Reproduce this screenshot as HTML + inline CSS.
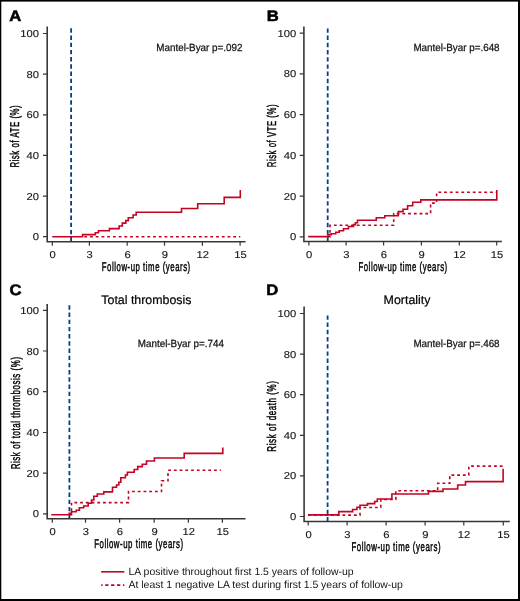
<!DOCTYPE html>
<html><head><meta charset="utf-8"><title>Figure</title><style>
html,body{margin:0;padding:0;background:#fff;}
body{width:520px;height:601px;overflow:hidden;}
svg{display:block;will-change:transform;}
text{font-family:"Liberation Sans",sans-serif;fill:#141414;text-rendering:geometricPrecision;}
.t{font-size:10px;stroke:#141414;stroke-width:0.12px;}
.p{font-size:10.4px;stroke:#141414;stroke-width:0.25px;}
.at{font-size:12.8px;letter-spacing:0.9px;fill:#000;stroke:#000;stroke-width:0.45px;}
.ti{font-size:12.4px;fill:#000;stroke:#000;stroke-width:0.2px;}
.L{font-size:16px;font-weight:bold;fill:#000;stroke:#000;stroke-width:0.55px;}
.lg{font-size:10.45px;}
.ax{stroke:#3a3637;stroke-width:1.6;fill:none;}
.tk{stroke:#3a3637;stroke-width:1.2;fill:none;}
.bl{stroke:#05417e;stroke-width:1.8;stroke-dasharray:4.4 2.8;fill:none;}
.rs{stroke:#c30321;stroke-width:1.6;fill:none;}
.rd{stroke:#c30321;stroke-width:1.6;stroke-dasharray:2.8 2.93;fill:none;}
</style></head>
<body><svg width="520" height="601" viewBox="0 0 520 601">
<rect width="520" height="601" fill="#fff"/>
<path d="M47.2,26.5 V241.8 M46.400000000000006,241.8 H245.5" class="ax"/>
<path d="M43.0,236.7 H47.2 M43.0,196.1 H47.2 M43.0,155.4 H47.2 M43.0,114.8 H47.2 M43.0,74.1 H47.2 M43.0,33.5 H47.2 M52.3,241.8 V245.8 M89.4,241.8 V245.8 M127.2,241.8 V245.8 M164.5,241.8 V245.8 M202.4,241.8 V245.8 M240.1,241.8 V245.8 " class="tk"/>
<text transform="translate(39,240.2) scale(1.12,1)" text-anchor="end" class="t">0</text>
<text transform="translate(39,199.6) scale(1.12,1)" text-anchor="end" class="t">20</text>
<text transform="translate(39,158.9) scale(1.12,1)" text-anchor="end" class="t">40</text>
<text transform="translate(39,118.3) scale(1.12,1)" text-anchor="end" class="t">60</text>
<text transform="translate(39,77.6) scale(1.12,1)" text-anchor="end" class="t">80</text>
<text transform="translate(39,37.0) scale(1.12,1)" text-anchor="end" class="t">100</text>
<text transform="translate(52.6,257.9) scale(1.12,1)" text-anchor="middle" class="t">0</text>
<text transform="translate(89.7,257.9) scale(1.12,1)" text-anchor="middle" class="t">3</text>
<text transform="translate(127.5,257.9) scale(1.12,1)" text-anchor="middle" class="t">6</text>
<text transform="translate(164.8,257.9) scale(1.12,1)" text-anchor="middle" class="t">9</text>
<text transform="translate(202.7,257.9) scale(1.12,1)" text-anchor="middle" class="t">12</text>
<text transform="translate(240.4,257.9) scale(1.12,1)" text-anchor="middle" class="t">15</text>
<path d="M71.1,28.3 V241.3" class="bl"/>
<path d="M82.6,236.8 H240.3" class="rd" style="stroke-dashoffset:4.03"/>
<path d="M52.3,236.8 H82.6 V234.6 H95.3 V232.7 H98.4 V230.8 H109.4 V228.6 H119.1 V226 H122.3 V223.1 H125.8 V220.6 H128.3 V217.7 H133.1 V215 H136.2 V212.2 H181.5 V208.5 H197.7 V203.8 H224.2 V197.4 H240.3 V190" class="rs"/>
<text transform="translate(9.2,21.2) scale(1.04,0.95)" class="L">A</text>
<text x="156.3" y="50.8" class="p" textLength="86.2" lengthAdjust="spacingAndGlyphs">Mantel-Byar p=.092</text>
<text transform="translate(101.79,271) scale(0.6076,1)" class="at">Follow-up time (years)</text>
<text transform="translate(19,167.61) rotate(-90) scale(0.6109,1)" class="at">Risk of ATE (%)</text>
<path d="M303.9,26.4 V241.5 M303.09999999999997,241.5 H501.9" class="ax"/>
<path d="M299.7,236.8 H303.9 M299.7,196.1 H303.9 M299.7,155.4 H303.9 M299.7,114.6 H303.9 M299.7,73.9 H303.9 M299.7,33.2 H303.9 M308.9,241.5 V245.5 M346.1,241.5 V245.5 M383.6,241.5 V245.5 M421.4,241.5 V245.5 M459.3,241.5 V245.5 M496.7,241.5 V245.5 " class="tk"/>
<text transform="translate(296.2,240.3) scale(1.12,1)" text-anchor="end" class="t">0</text>
<text transform="translate(296.2,199.6) scale(1.12,1)" text-anchor="end" class="t">20</text>
<text transform="translate(296.2,158.9) scale(1.12,1)" text-anchor="end" class="t">40</text>
<text transform="translate(296.2,118.1) scale(1.12,1)" text-anchor="end" class="t">60</text>
<text transform="translate(296.2,77.4) scale(1.12,1)" text-anchor="end" class="t">80</text>
<text transform="translate(296.2,36.7) scale(1.12,1)" text-anchor="end" class="t">100</text>
<text transform="translate(309.2,257.9) scale(1.12,1)" text-anchor="middle" class="t">0</text>
<text transform="translate(346.4,257.9) scale(1.12,1)" text-anchor="middle" class="t">3</text>
<text transform="translate(383.9,257.9) scale(1.12,1)" text-anchor="middle" class="t">6</text>
<text transform="translate(421.7,257.9) scale(1.12,1)" text-anchor="middle" class="t">9</text>
<text transform="translate(459.6,257.9) scale(1.12,1)" text-anchor="middle" class="t">12</text>
<text transform="translate(497.0,257.9) scale(1.12,1)" text-anchor="middle" class="t">15</text>
<path d="M327.7,28.4 V241.0" class="bl"/>
<path d="M328,236.6 H330 V225.3 H393.7 V213.6 H430.6 V203.1 H436.6 V192.3 H496.8" class="rd" style="stroke-dashoffset:0"/>
<path d="M308.2,236.6 H328 V234.6 H331.2 V233.7 H335.8 V232.3 H339.2 V230.8 H343.5 V228.8 H348.5 V226.5 H353.5 V224.6 H355.4 V222.7 H357.5 V220.2 H376.3 V217.7 H384.8 V215.8 H398.3 V211.6 H403 V209.2 H407.6 V205.8 H412.7 V202.2 H420.8 V199.9 H496.8 V190.1" class="rs"/>
<text transform="translate(266.8,21.2) scale(1.04,0.95)" class="L">B</text>
<text x="413.4" y="50.8" class="p" textLength="86.2" lengthAdjust="spacingAndGlyphs">Mantel-Byar p=.648</text>
<text transform="translate(358.39,270.8) scale(0.6104,1)" class="at">Follow-up time (years)</text>
<text transform="translate(276,167.20) rotate(-90) scale(0.6049,1)" class="at">Risk of VTE (%)</text>
<path d="M47.2,304 V518.8 M46.400000000000006,518.8 H245.5" class="ax"/>
<path d="M43.0,513.9 H47.2 M43.0,473.2 H47.2 M43.0,432.5 H47.2 M43.0,391.7 H47.2 M43.0,351.0 H47.2 M43.0,310.3 H47.2 M52.3,518.8 V522.8 M85.5,518.8 V522.8 M119.6,518.8 V522.8 M154.2,518.8 V522.8 M188.4,518.8 V522.8 M222.4,518.8 V522.8 " class="tk"/>
<text transform="translate(39,517.4) scale(1.12,1)" text-anchor="end" class="t">0</text>
<text transform="translate(39,476.7) scale(1.12,1)" text-anchor="end" class="t">20</text>
<text transform="translate(39,436.0) scale(1.12,1)" text-anchor="end" class="t">40</text>
<text transform="translate(39,395.2) scale(1.12,1)" text-anchor="end" class="t">60</text>
<text transform="translate(39,354.5) scale(1.12,1)" text-anchor="end" class="t">80</text>
<text transform="translate(39,313.8) scale(1.12,1)" text-anchor="end" class="t">100</text>
<text transform="translate(52.6,535.0) scale(1.12,1)" text-anchor="middle" class="t">0</text>
<text transform="translate(85.8,535.0) scale(1.12,1)" text-anchor="middle" class="t">3</text>
<text transform="translate(119.9,535.0) scale(1.12,1)" text-anchor="middle" class="t">6</text>
<text transform="translate(154.5,535.0) scale(1.12,1)" text-anchor="middle" class="t">9</text>
<text transform="translate(188.7,535.0) scale(1.12,1)" text-anchor="middle" class="t">12</text>
<text transform="translate(222.7,535.0) scale(1.12,1)" text-anchor="middle" class="t">15</text>
<path d="M69.4,305.3 V518.3" class="bl"/>
<path d="M69.2,514.6 H71.5 V502.6 H128.5 V491.5 H161.5 V480.8 H168 V470.3 H220.8" class="rd" style="stroke-dashoffset:0"/>
<path d="M51.3,514.7 H69.2 V513.3 H71.5 V511.7 H76.2 V510.2 H79.4 V507.7 H83.7 V506 H88.2 V503.3 H91.5 V500 H93.8 V496.2 H97.3 V494 H103.8 V491.9 H112.5 V487.3 H116.5 V485 H118.8 V482.3 H120.8 V477.7 H125.4 V475 H127.4 V472.3 H134.2 V469.5 H137.7 V466.6 H142.3 V464.2 H146.5 V461 H154.4 V458 H184.2 V453.4 H222.8 V447.4" class="rs"/>
<text transform="translate(9.6,294.6) scale(1.04,0.95)" class="L">C</text>
<text x="137.8" y="347.2" class="p" textLength="86.2" lengthAdjust="spacingAndGlyphs">Mantel-Byar p=.744</text>
<text transform="translate(94.19,547.7) scale(0.6104,1)" class="at">Follow-up time (years)</text>
<text transform="translate(19.5,469.32) rotate(-90) scale(0.6218,1)" class="at">Risk of total thrombosis (%)</text>
<text x="101.3" y="303.8" class="ti">Total thrombosis</text>
<path d="M304.1,306.5 V521.5 M303.3,521.5 H509.8" class="ax"/>
<path d="M299.9,516.5 H304.1 M299.9,475.9 H304.1 M299.9,435.3 H304.1 M299.9,394.7 H304.1 M299.9,354.1 H304.1 M299.9,313.5 H304.1 M308.2,521.5 V525.5 M347.1,521.5 V525.5 M386.1,521.5 V525.5 M425.1,521.5 V525.5 M463.8,521.5 V525.5 M503.3,521.5 V525.5 " class="tk"/>
<text transform="translate(296.2,520.0) scale(1.12,1)" text-anchor="end" class="t">0</text>
<text transform="translate(296.2,479.4) scale(1.12,1)" text-anchor="end" class="t">20</text>
<text transform="translate(296.2,438.8) scale(1.12,1)" text-anchor="end" class="t">40</text>
<text transform="translate(296.2,398.2) scale(1.12,1)" text-anchor="end" class="t">60</text>
<text transform="translate(296.2,357.6) scale(1.12,1)" text-anchor="end" class="t">80</text>
<text transform="translate(296.2,317.0) scale(1.12,1)" text-anchor="end" class="t">100</text>
<text transform="translate(308.5,537.9) scale(1.12,1)" text-anchor="middle" class="t">0</text>
<text transform="translate(347.4,537.9) scale(1.12,1)" text-anchor="middle" class="t">3</text>
<text transform="translate(386.4,537.9) scale(1.12,1)" text-anchor="middle" class="t">6</text>
<text transform="translate(425.4,537.9) scale(1.12,1)" text-anchor="middle" class="t">9</text>
<text transform="translate(464.1,537.9) scale(1.12,1)" text-anchor="middle" class="t">12</text>
<text transform="translate(503.6,537.9) scale(1.12,1)" text-anchor="middle" class="t">15</text>
<path d="M327.6,315.4 V521.0" class="bl"/>
<path d="M308.1,515.1 H360 V507.5 H380.8 V499.5 H395.8 V490.7 H437.7 V483.3 H449.8 V475.1 H468.8 V466.1 H503.1" class="rd" style="stroke-dashoffset:0"/>
<path d="M308.1,514.9 H338.8 V511.6 H352.6 V509.5 H356.9 V507.2 H360 V505.3 H367.5 V503.6 H374.7 V501.5 H377.3 V499 H391.9 V494 H428.5 V491.4 H443 V489 H457.7 V485 H465.5 V481.6 H503.1 V468.8" class="rs"/>
<text transform="translate(266.2,295.1) scale(1.04,0.95)" class="L">D</text>
<text x="413.4" y="346.5" class="p" textLength="86.2" lengthAdjust="spacingAndGlyphs">Mantel-Byar p=.468</text>
<text transform="translate(351.39,550.8) scale(0.6132,1)" class="at">Follow-up time (years)</text>
<text transform="translate(276,451.63) rotate(-90) scale(0.6270,1)" class="at">Risk of death (%)</text>
<text x="383.6" y="303.8" class="ti">Mortality</text>

<path d="M101.2,571.8 H124.3" class="rs"/>
<path d="M101.2,585.1 H124.3" class="rd" style="stroke-dasharray:3.3 2.6;stroke-dashoffset:1.9"/>
<text x="128.5" y="575" class="lg">LA positive throughout first 1.5 years of follow-up</text>
<text x="128.5" y="588.2" class="lg">At least 1 negative LA test during first 1.5 years of follow-up</text>


<rect x="0" y="0" width="520" height="1.6" fill="#000"/>
<rect x="0" y="0" width="1.3" height="601" fill="#000"/>
<rect x="518" y="0" width="2" height="601" fill="#000"/>
<rect x="0" y="599" width="520" height="2" fill="#000"/>

</svg></body></html>
